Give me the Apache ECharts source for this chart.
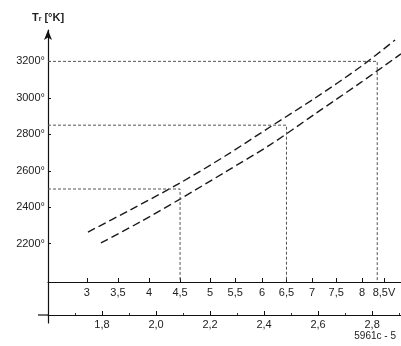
<!DOCTYPE html>
<html><head><meta charset="utf-8">
<script src="https://cdn.jsdelivr.net/npm/echarts@6/dist/echarts.min.js"></script>
<style>html,body{margin:0;padding:0;background:#fff}#c{width:401px;height:346px}</style>
</head><body><div id="c"></div>
<script>
// Current axis (bottom, A) tick labels
const currentTicks = [1.8, 2.0, 2.2, 2.4, 2.6, 2.8];
// Voltage axis (top, V): labels and the lamp current each voltage corresponds to
const voltLabels = ['3', '3,5', '4', '4,5', '5', '5,5', '6', '6,5', '7', '7,5', '8', '8,5V'];
const voltAtCurrent = [1.744, 1.859, 1.974, 2.089, 2.200, 2.293, 2.393, 2.483, 2.578, 2.667, 2.763, 2.844];
// Temperature ticks
const tempTicks = [2200, 2400, 2600, 2800, 3000, 3200];
// Upper curve
const upperI = [1.748, 1.904, 2.089, 2.256, 2.422, 2.589, 2.756, 2.885];
const upperT = [2264, 2385, 2533, 2681, 2840, 2999, 3169, 3317];
// Lower curve
const lowerI = [1.796, 1.941, 2.089, 2.256, 2.422, 2.589, 2.756, 2.907];
const lowerT = [2204, 2319, 2445, 2593, 2742, 2912, 3082, 3241];
// Reference (read-off) lines
const refI = [2.089, 2.483, 2.819];
const refT = [2500, 2850, 3200];

const xMin = 1.6, xMax = 2.907, yMin = 1990, yMax = 3372;
const font = 'Liberation Sans, Arial, sans-serif';
const txt = '#222';

const chart = echarts.init(document.getElementById('c'), null, {renderer: 'canvas'});
const series = [];
series.push({
  type: 'line', xAxisIndex: 0, yAxisIndex: 0, smooth: 0.3, symbol: 'none',
  data: upperI.map((v, i) => [v, upperT[i]]),
  lineStyle: {color: '#1a1a1a', width: 1.4, type: [8, 4]}
});
series.push({
  type: 'line', xAxisIndex: 0, yAxisIndex: 0, smooth: 0.3, symbol: 'none',
  data: lowerI.map((v, i) => [v, lowerT[i]]),
  lineStyle: {color: '#1a1a1a', width: 1.4, type: [8, 4]}
});
refI.forEach((ci, k) => {
  series.push({
    type: 'line', xAxisIndex: 0, yAxisIndex: 0, symbol: 'none', silent: true,
    data: [[xMin, refT[k]], [ci, refT[k]], [ci, yMin]],
    lineStyle: {color: '#555', width: 1, type: [3, 2]}
  });
});

chart.setOption({
  animation: false,
  backgroundColor: '#fff',
  textStyle: {fontFamily: font},
  grid: [
    {left: 48, right: 0, top: 30, bottom: 346 - 282},
    {left: 48, right: 0, top: 282, bottom: 23}
  ],
  title: {
    text: '5961c - 5', right: 0, bottom: 0,
    textStyle: {fontSize: 10, fontWeight: 'normal', color: txt, fontFamily: font}
  },
  xAxis: [
    {
      type: 'value', gridIndex: 0, position: 'bottom', min: xMin, max: xMax,
      axisLine: {show: true, lineStyle: {color: '#111', width: 1.2}},
      axisTick: {show: true, inside: true, length: 4, customValues: voltAtCurrent, lineStyle: {color: '#111'}},
      axisLabel: {
        customValues: voltAtCurrent, margin: 5, fontSize: 11, color: txt,
        formatter: v => { const i = voltAtCurrent.indexOf(v); return i >= 0 ? voltLabels[i] : ''; }
      },
      splitLine: {show: false}
    },
    {
      type: 'value', gridIndex: 1, position: 'bottom', offset: -8, min: xMin, max: xMax, interval: 0.2,
      axisLine: {show: true, lineStyle: {color: '#111', width: 1.2}},
      axisTick: {show: true, inside: true, length: 4, lineStyle: {color: '#111'}},
      minorTick: {show: true, splitNumber: 2, length: 2, lineStyle: {color: '#333'}},
      axisLabel: {
        customValues: currentTicks, margin: 4, fontSize: 11, color: txt,
        formatter: v => v.toFixed(1).replace('.', ',')
      },
      splitLine: {show: false}
    }
  ],
  yAxis: [
    {
      type: 'value', gridIndex: 0, min: yMin, max: yMax,
      name: '{t|T}{s|r}{t| [°K]}', nameLocation: 'end', nameGap: 7,
      nameTextStyle: {
        rich: {
          t: {fontSize: 11, fontWeight: 'bold', color: txt, fontFamily: font},
          s: {fontSize: 7, fontWeight: 'bold', color: txt, fontFamily: font, verticalAlign: 'bottom', padding: [4, 0, 0, 0]}
        }
      },
      axisLine: {show: true, symbol: ['none', 'arrow'], symbolSize: [6, 10], lineStyle: {color: '#111', width: 1.2}},
      axisTick: {show: true, inside: true, length: 3, customValues: tempTicks, lineStyle: {color: '#111'}},
      axisLabel: {customValues: tempTicks, margin: 3, fontSize: 11, color: txt, formatter: v => v + '°'},
      splitLine: {show: false}
    },
    {
      type: 'value', gridIndex: 1, min: 0, max: 1,
      axisLine: {show: true, lineStyle: {color: '#111', width: 1.2}},
      axisTick: {show: false}, axisLabel: {show: false}, splitLine: {show: false}
    }
  ],
  graphic: [
    {type: 'line', shape: {x1: 38, y1: 315, x2: 48, y2: 315}, style: {stroke: '#111', lineWidth: 1.2}}
  ],
  series: series
});
</script></body></html>
